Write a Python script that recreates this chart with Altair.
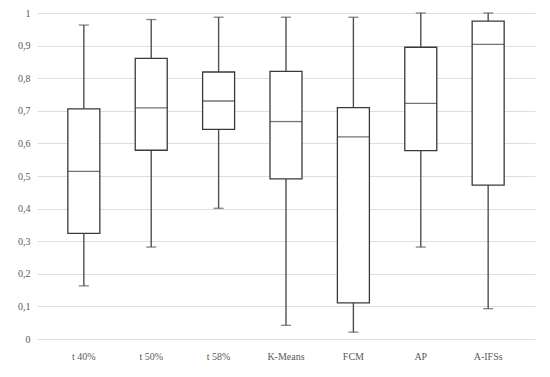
import altair as alt
import pandas as pd

categories = ["t 40%", "t 50%", "t 58%", "K-Means", "FCM", "AP", "A-IFSs"]
mins = [0.163, 0.282, 0.401, 0.042, 0.021, 0.282, 0.093]
q1s = [0.324, 0.579, 0.643, 0.491, 0.111, 0.578, 0.472]
medians = [0.514, 0.709, 0.730, 0.667, 0.620, 0.723, 0.904]
q3s = [0.706, 0.861, 0.819, 0.821, 0.710, 0.895, 0.975]
maxs = [0.963, 0.980, 0.987, 0.987, 0.987, 1.000, 1.000]
y_ticks = [0, 0.1, 0.2, 0.3, 0.4, 0.5, 0.6, 0.7, 0.8, 0.9, 1]

df = pd.DataFrame({"cat": categories, "lo": mins, "q1": q1s, "med": medians,
                   "q3": q3s, "hi": maxs})

font = "Liberation Serif"
label_color = "#595959"
line_color = "#505050"
box_color = "#3a3a3a"

x_enc = alt.X("cat:N", sort=categories, title=None,
              scale=alt.Scale(paddingOuter=0.195, paddingInner=0),
              axis=alt.Axis(labelAngle=0, ticks=False, domain=False, grid=False,
                            labelFont=font, labelFontSize=10, labelColor=label_color,
                            labelPadding=12))
y_scale = alt.Scale(domain=[0, 1], nice=False)
y_axis = alt.Axis(values=y_ticks, tickCount=20, domain=False, ticks=False,
                  grid=True, gridColor="#dedede", gridWidth=1,
                  labelOverlap=False,
                  labelFont=font, labelFontSize=10, labelColor=label_color,
                  labelPadding=7,
                  labelExpr="datum.value == 0 ? '0' : (datum.value == 1 ? '1' : replace(format(datum.value, '.1f'), '.', ','))")


def yq(field):
    return alt.Y(field, scale=y_scale, axis=y_axis, title=None)


base = alt.Chart(df)

whisker = base.mark_rule(color=line_color, strokeWidth=1.4).encode(
    x=x_enc, y=yq("lo:Q"), y2="hi:Q")
box = base.mark_bar(size=32, fill="white", stroke=box_color, strokeWidth=1.3).encode(
    x=x_enc, y=yq("q1:Q"), y2="q3:Q")
median = base.mark_tick(size=32, thickness=1.3, color=box_color).encode(
    x=x_enc, y=yq("med:Q"))
cap_lo = base.mark_tick(size=10, thickness=1.3, color=line_color).encode(
    x=x_enc, y=yq("lo:Q"))
cap_hi = base.mark_tick(size=10, thickness=1.3, color=line_color).encode(
    x=x_enc, y=yq("hi:Q"))

chart = alt.layer(whisker, box, median, cap_lo, cap_hi).properties(
    width=498, height=326,
    autosize=alt.AutoSizeParams(type="none"),
    padding={"left": 29, "top": 5, "right": 5, "bottom": 30},
    background="white",
).configure_view(stroke=None)

chart.save("out.html", embed_options={"renderer": "svg", "actions": False})
